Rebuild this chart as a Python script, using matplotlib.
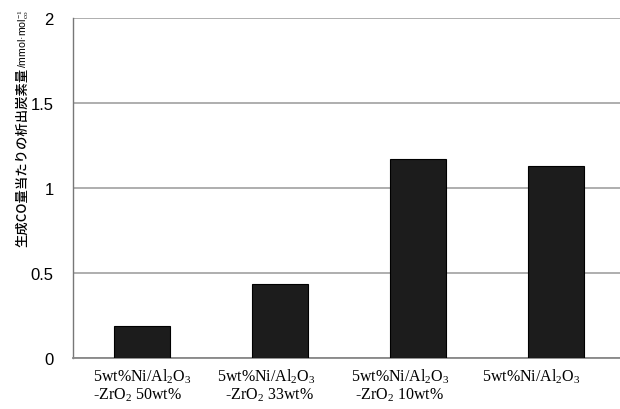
import numpy as np
import matplotlib.pyplot as plt
from matplotlib.transforms import ScaledTranslation

plt.rcParams['font.family'] = ['Liberation Sans', 'DejaVu Sans']
plt.rcParams['mathtext.fontset'] = 'custom'
plt.rcParams['mathtext.rm'] = 'Liberation Serif'
plt.rcParams['mathtext.it'] = 'Liberation Serif:italic'

# 触媒ごとの析出炭素量
catalysts = [
    '5wt%Ni/Al$_2$O$_3$\n-ZrO$_2$ 50wt%',
    '5wt%Ni/Al$_2$O$_3$\n  -ZrO$_2$ 33wt%',
    '5wt%Ni/Al$_2$O$_3$\n -ZrO$_2$ 10wt%',
    '5wt%Ni/Al$_2$O$_3$',
]
carbon = [0.19, 0.435, 1.168, 1.128]
y_ticks = [0, 0.5, 1, 1.5, 2]
y_tick_labels = ['0', '0.5', '1', '1.5', '2']

W, H = 620, 410
fig = plt.figure(figsize=(W / 100, H / 100), dpi=100)
# 右端は図の外まで伸ばす
ax = fig.add_axes([73 / W, 1 - 359 / H, (625 - 73) / W, (359 - 19) / H])

x = np.arange(len(catalysts))
ax.bar(x, carbon, width=0.405, color='#1c1c1c', edgecolor='#000000',
       linewidth=0.8, zorder=3)

ax.set_xlim(-0.5, len(catalysts) - 0.5)
ax.set_ylim(0, 2)
ax.set_yticks(y_ticks, y_tick_labels)
ax.yaxis.grid(True, color='#a8a8a8', linewidth=1.3, zorder=0)
ax.tick_params(axis='y', length=0, pad=14, labelsize=12)
ax.tick_params(axis='x', length=0, pad=6)

ax.set_xticks(x, catalysts, fontsize=11.5, family='Liberation Serif',
              multialignment='left', linespacing=1.1)
shifts = [0, -14, -18, -25]
for lab, dx in zip(ax.get_xticklabels(), shifts):
    lab.set_transform(lab.get_transform() + ScaledTranslation(dx / 100, 0, fig.dpi_scale_trans))

for s in ['top', 'right']:
    ax.spines[s].set_visible(False)
ax.spines['left'].set_color('#777777')
ax.spines['left'].set_linewidth(1.0)
ax.spines['bottom'].set_color('#888888')
ax.spines['bottom'].set_linewidth(1.3)

# 縦軸ラベル（日本語部分と単位部分）
jp = fig.text(22 / W, 1 - 247 / H, '生成CO量当たりの析出炭素量', rotation=90,
              ha='center', va='bottom', fontsize=9.6, fontweight='medium',
              family=['Noto Sans CJK JP', 'DejaVu Sans'])
fig.canvas.draw()
bb = jp.get_window_extent()
fig.text(22 / W + 0.003, bb.y1 / H, '/mmol·mol$_{\\rm co}^{-1}$', rotation=90,
         ha='center', va='bottom', fontsize=7.6,
         family=['Liberation Sans', 'DejaVu Sans'])

fig.savefig('out.png', dpi=100)
